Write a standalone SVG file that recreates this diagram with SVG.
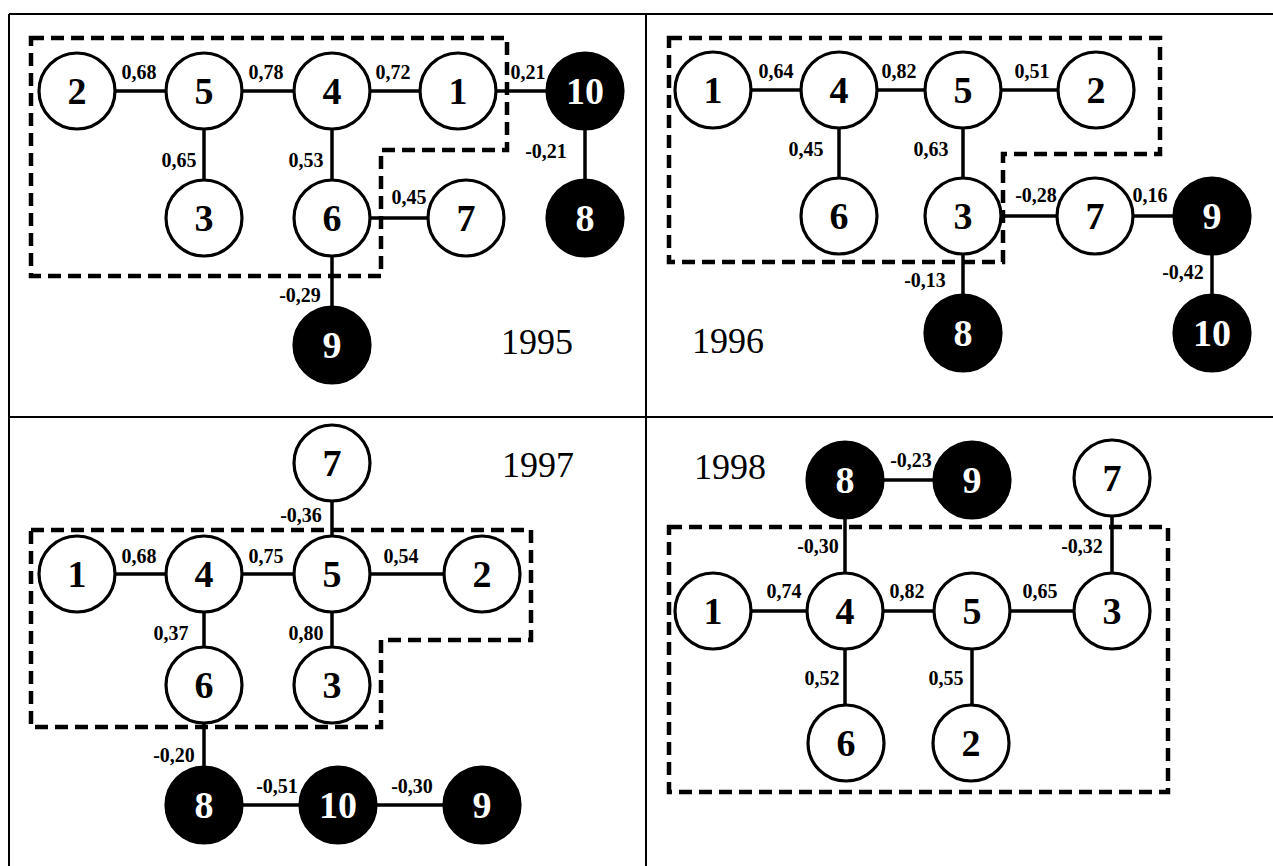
<svg xmlns="http://www.w3.org/2000/svg" width="1273" height="866" viewBox="0 0 1273 866">
<style>
.frame{stroke:#000;stroke-width:2;fill:none}
.box{stroke:#000;stroke-width:4.5;fill:none;stroke-dasharray:13 7}
.e line{stroke:#000;stroke-width:3.5}
.n circle{stroke:#000;stroke-width:3.2;fill:#fff}
.b circle{fill:#000}
.n text{font-family:"Liberation Serif","Times New Roman",serif;font-weight:bold;font-size:38px;text-anchor:middle;fill:#000}
.b text{fill:#fff}
.lbl{font-family:"Liberation Serif","Times New Roman",serif;font-weight:bold;font-size:20px;text-anchor:middle;fill:#000}
.yr{font-family:"Liberation Serif","Times New Roman",serif;font-size:36px;fill:#000}
</style>
<rect width="1273" height="866" fill="#fff"/>
<g id="frame" class="frame">
<line x1="9" y1="14" x2="1273" y2="14"/>
<line x1="9" y1="14" x2="9" y2="866"/>
<line x1="646" y1="14" x2="646" y2="866"/>
<line x1="9" y1="417" x2="1273" y2="417"/>
</g>
<g id="groups">
<path class="box" d="M31,38 H507 V150 H381 V276 H31 Z"/>
<path class="box" d="M669,38 H1160 V154 H1003 V262 H669 Z"/>
<path class="box" d="M31,530 H531 V640 H381 V727 H31 Z"/>
<path class="box" d="M669,527 H1168 V792 H669 Z"/>
</g>
<g id="connectors" class="e">
<!-- 1995 -->
<line x1="77" y1="91" x2="204" y2="91"/>
<line x1="204" y1="91" x2="332" y2="91"/>
<line x1="332" y1="91" x2="458" y2="91"/>
<line x1="458" y1="91" x2="585" y2="91"/>
<line x1="204" y1="91" x2="204" y2="218"/>
<line x1="332" y1="91" x2="332" y2="218"/>
<line x1="585" y1="91" x2="585" y2="218"/>
<line x1="332" y1="218" x2="466" y2="218"/>
<line x1="332" y1="218" x2="332" y2="345"/>
<!-- 1996 -->
<line x1="713" y1="90" x2="839" y2="90"/>
<line x1="839" y1="90" x2="963" y2="90"/>
<line x1="963" y1="90" x2="1096" y2="90"/>
<line x1="839" y1="90" x2="839" y2="216"/>
<line x1="963" y1="90" x2="963" y2="216"/>
<line x1="963" y1="216" x2="1095" y2="216"/>
<line x1="1095" y1="216" x2="1212" y2="216"/>
<line x1="963" y1="216" x2="963" y2="333"/>
<line x1="1212" y1="216" x2="1212" y2="333"/>
<!-- 1997 -->
<line x1="77" y1="574" x2="204" y2="574"/>
<line x1="204" y1="574" x2="332" y2="574"/>
<line x1="332" y1="574" x2="482" y2="574"/>
<line x1="332" y1="463" x2="332" y2="574"/>
<line x1="204" y1="574" x2="204" y2="685"/>
<line x1="332" y1="574" x2="332" y2="685"/>
<line x1="204" y1="685" x2="204" y2="805"/>
<line x1="204" y1="805" x2="338" y2="805"/>
<line x1="338" y1="805" x2="482" y2="805"/>
<!-- 1998 -->
<line x1="845" y1="480" x2="972" y2="480"/>
<line x1="845" y1="480" x2="845" y2="611"/>
<line x1="1112" y1="478" x2="1112" y2="611"/>
<line x1="713" y1="611" x2="845" y2="611"/>
<line x1="845" y1="611" x2="972" y2="611"/>
<line x1="972" y1="611" x2="1112" y2="611"/>
<line x1="845" y1="611" x2="845" y2="743"/>
<line x1="972" y1="611" x2="972" y2="743"/>
</g>
<g id="edge-labels" class="lbl">
<text x="139" y="79">0,68</text>
<text x="266" y="79">0,78</text>
<text x="393" y="79">0,72</text>
<text x="528" y="79">0,21</text>
<text x="179" y="167">0,65</text>
<text x="306" y="167">0,53</text>
<text x="546" y="158">-0,21</text>
<text x="409" y="204">0,45</text>
<text x="300" y="302">-0,29</text>
<text x="776" y="78">0,64</text>
<text x="899" y="78">0,82</text>
<text x="1032" y="78">0,51</text>
<text x="806" y="156">0,45</text>
<text x="931" y="156">0,63</text>
<text x="1036" y="202">-0,28</text>
<text x="1150" y="202">0,16</text>
<text x="925" y="287">-0,13</text>
<text x="1183" y="279">-0,42</text>
<text x="301" y="522">-0,36</text>
<text x="139" y="563">0,68</text>
<text x="266" y="563">0,75</text>
<text x="401" y="563">0,54</text>
<text x="171" y="640">0,37</text>
<text x="306" y="640">0,80</text>
<text x="174" y="762">-0,20</text>
<text x="277" y="793">-0,51</text>
<text x="412" y="793">-0,30</text>
<text x="911" y="467">-0,23</text>
<text x="818" y="553">-0,30</text>
<text x="1082" y="553">-0,32</text>
<text x="784" y="598">0,74</text>
<text x="907" y="598">0,82</text>
<text x="1040" y="598">0,65</text>
<text x="822" y="685">0,52</text>
<text x="946" y="685">0,55</text>
</g>
<g id="years" class="yr">
<text x="501" y="354">1995</text>
<text x="692" y="353">1996</text>
<text x="502" y="477">1997</text>
<text x="694" y="479">1998</text>
</g>
<!-- 1995 nodes -->
<g id="y95-n2" class="n"><circle cx="77" cy="91" r="38"/><text x="77" y="104">2</text></g>
<g id="y95-n5" class="n"><circle cx="204" cy="91" r="38"/><text x="204" y="104">5</text></g>
<g id="y95-n4" class="n"><circle cx="332" cy="91" r="38"/><text x="332" y="104">4</text></g>
<g id="y95-n1" class="n"><circle cx="458" cy="91" r="38"/><text x="458" y="104">1</text></g>
<g id="y95-n10" class="n b"><circle cx="585" cy="91" r="38"/><text x="585" y="104">10</text></g>
<g id="y95-n3" class="n"><circle cx="204" cy="218" r="38"/><text x="204" y="231">3</text></g>
<g id="y95-n6" class="n"><circle cx="332" cy="218" r="38"/><text x="332" y="231">6</text></g>
<g id="y95-n7" class="n"><circle cx="466" cy="218" r="38"/><text x="466" y="231">7</text></g>
<g id="y95-n8" class="n b"><circle cx="585" cy="218" r="38"/><text x="585" y="231">8</text></g>
<g id="y95-n9" class="n b"><circle cx="332" cy="345" r="38"/><text x="332" y="358">9</text></g>
<!-- 1996 nodes -->
<g id="y96-n1" class="n"><circle cx="713" cy="90" r="38"/><text x="713" y="103">1</text></g>
<g id="y96-n4" class="n"><circle cx="839" cy="90" r="38"/><text x="839" y="103">4</text></g>
<g id="y96-n5" class="n"><circle cx="963" cy="90" r="38"/><text x="963" y="103">5</text></g>
<g id="y96-n2" class="n"><circle cx="1096" cy="90" r="38"/><text x="1096" y="103">2</text></g>
<g id="y96-n6" class="n"><circle cx="839" cy="216" r="38"/><text x="839" y="229">6</text></g>
<g id="y96-n3" class="n"><circle cx="963" cy="216" r="38"/><text x="963" y="229">3</text></g>
<g id="y96-n7" class="n"><circle cx="1095" cy="216" r="38"/><text x="1095" y="229">7</text></g>
<g id="y96-n9" class="n b"><circle cx="1212" cy="216" r="38"/><text x="1212" y="229">9</text></g>
<g id="y96-n8" class="n b"><circle cx="963" cy="333" r="38"/><text x="963" y="346">8</text></g>
<g id="y96-n10" class="n b"><circle cx="1212" cy="333" r="38"/><text x="1212" y="346">10</text></g>
<!-- 1997 nodes -->
<g id="y97-n7" class="n"><circle cx="332" cy="463" r="38"/><text x="332" y="476">7</text></g>
<g id="y97-n1" class="n"><circle cx="77" cy="574" r="38"/><text x="77" y="587">1</text></g>
<g id="y97-n4" class="n"><circle cx="204" cy="574" r="38"/><text x="204" y="587">4</text></g>
<g id="y97-n5" class="n"><circle cx="332" cy="574" r="38"/><text x="332" y="587">5</text></g>
<g id="y97-n2" class="n"><circle cx="482" cy="574" r="38"/><text x="482" y="587">2</text></g>
<g id="y97-n6" class="n"><circle cx="204" cy="685" r="38"/><text x="204" y="698">6</text></g>
<g id="y97-n3" class="n"><circle cx="332" cy="685" r="38"/><text x="332" y="698">3</text></g>
<g id="y97-n8" class="n b"><circle cx="204" cy="805" r="38"/><text x="204" y="818">8</text></g>
<g id="y97-n10" class="n b"><circle cx="338" cy="805" r="38"/><text x="338" y="818">10</text></g>
<g id="y97-n9" class="n b"><circle cx="482" cy="805" r="38"/><text x="482" y="818">9</text></g>
<!-- 1998 nodes -->
<g id="y98-n8" class="n b"><circle cx="845" cy="480" r="38"/><text x="845" y="493">8</text></g>
<g id="y98-n9" class="n b"><circle cx="972" cy="480" r="38"/><text x="972" y="493">9</text></g>
<g id="y98-n7" class="n"><circle cx="1112" cy="478" r="38"/><text x="1112" y="491">7</text></g>
<g id="y98-n1" class="n"><circle cx="713" cy="611" r="38"/><text x="713" y="624">1</text></g>
<g id="y98-n4" class="n"><circle cx="845" cy="611" r="38"/><text x="845" y="624">4</text></g>
<g id="y98-n5" class="n"><circle cx="972" cy="611" r="38"/><text x="972" y="624">5</text></g>
<g id="y98-n3" class="n"><circle cx="1112" cy="611" r="38"/><text x="1112" y="624">3</text></g>
<g id="y98-n6" class="n"><circle cx="846" cy="743" r="38"/><text x="846" y="756">6</text></g>
<g id="y98-n2" class="n"><circle cx="971" cy="743" r="38"/><text x="971" y="756">2</text></g>
</svg>
